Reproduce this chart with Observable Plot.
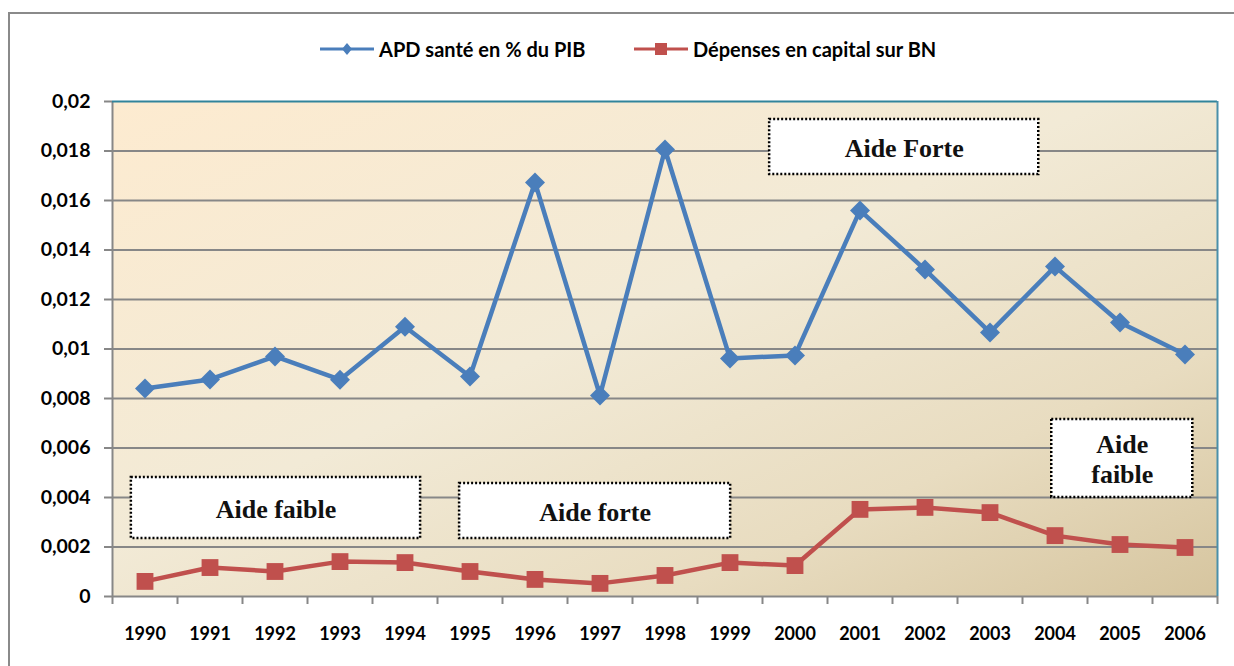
<!DOCTYPE html>
<html>
<head>
<meta charset="utf-8">
<script src="https://cdn.jsdelivr.net/npm/d3@7"></script>
<script src="https://cdn.jsdelivr.net/npm/@observablehq/plot@0.6"></script>
<style>
  body { margin: 0; background: #fff; width: 1234px; height: 666px; overflow: hidden; position: relative; }
  #outer { position: absolute; left: 8px; top: 12px; width: 1250px; height: 700px; border: 2px solid #8a8a8a; box-sizing: border-box; }
  #legend { position: relative; height: 80px; font-family: Lato, "Open Sans", sans-serif; font-weight: bold; font-size: 20px; color: #000; }
  .item { position: absolute; top: 37px; height: 24px; display: flex; align-items: center; white-space: nowrap; }
  .item svg { margin-right: 5px; }
  #chart { position: relative; }
</style>
</head>
<body>
<div id="outer"></div>
<div id="chart">
  <div id="legend"></div>
</div>
<script>
// ---- Data ----
const years = [1990, 1991, 1992, 1993, 1994, 1995, 1996, 1997, 1998, 1999, 2000, 2001, 2002, 2003, 2004, 2005, 2006];
const apdSante = [0.0084, 0.00877, 0.0097, 0.00876, 0.0109, 0.00889, 0.01673, 0.00812, 0.01806, 0.00962, 0.00974, 0.0156, 0.01321, 0.01067, 0.01333, 0.01107, 0.00978];
const depensesCapital = [0.00061, 0.00117, 0.00101, 0.00141, 0.00137, 0.00101, 0.00069, 0.00053, 0.00085, 0.00137, 0.00125, 0.00352, 0.0036, 0.00339, 0.00246, 0.0021, 0.00198];
const seriesNames = ["APD santé en % du PIB", "Dépenses en capital sur BN"];
const yTicks = [0, 0.002, 0.004, 0.006, 0.008, 0.01, 0.012, 0.014, 0.016, 0.018, 0.02];
// annotation boxes (in year / value units)
const annText = ["Aide faible", "Aide forte", "Aide Forte", "Aide\nfaible"];
const annX1 = [1989.79, 1994.84, 1999.61, 2003.95];
const annX2 = [1994.24, 1999.01, 2003.75, 2006.12];
const annY1 = [0.00234, 0.00234, 0.01705, 0.0040];
const annY2 = [0.00481, 0.00457, 0.01927, 0.00715];

// ---- Styles ----
const blue = "#4a7ebb";
const red = "#c0504d";
const grid = "#878787";

const blueData = years.map((y, i) => ({year: y, value: apdSante[i]}));
const redData = years.map((y, i) => ({year: y, value: depensesCapital[i]}));
const ann = annText.map((t, i) => ({text: t, x1: annX1[i], x2: annX2[i], y1: annY1[i], y2: annY2[i]}));
const bounds = d3.range(years[0] - 0.5, years[years.length - 1] + 1, 1);
const xDomain = [years[0] - 0.5, years[years.length - 1] + 0.5];

const fmt = d => d === 0 ? "0" : String(+d.toFixed(3)).replace(".", ",");

// ---- Legend ----
const legend = document.getElementById("legend");
const legendItems = [
  {name: seriesNames[0], color: blue, sym: "diamond", left: 320},
  {name: seriesNames[1], color: red, sym: "square", left: 634}
];
for (const it of legendItems) {
  const div = document.createElement("div");
  div.className = "item";
  div.style.left = it.left + "px";
  const marker = it.sym === "diamond"
    ? `<polygon points="27,6 32,12 27,18 22,12" fill="${it.color}"/>`
    : `<rect x="21" y="6" width="12" height="12" fill="${it.color}"/>`;
  div.innerHTML = `<svg width="54" height="24"><line x1="0" x2="54" y1="12" y2="12" stroke="${it.color}" stroke-width="3"/>${marker}</svg><span>${it.name}</span>`;
  legend.appendChild(div);
}

// ---- Chart ----
const svg = Plot.plot({
  width: 1234,
  height: 586,
  marginTop: 21,
  marginBottom: 70,
  marginLeft: 112,
  marginRight: 17,
  style: {fontFamily: "Lato, 'Open Sans', sans-serif", fontSize: "18px", fontWeight: "bold", color: "#000", background: "transparent", overflow: "visible"},
  x: {domain: xDomain, label: null},
  y: {domain: [0, 0.02], label: null},
  marks: [
    Plot.frame({fill: "#f2ead6", stroke: "none"}),
    Plot.ruleY(yTicks.slice(1, -1), {stroke: grid, strokeWidth: 2}),
    Plot.ruleY([0], {stroke: grid, strokeWidth: 2}),
    Plot.ruleX([xDomain[0]], {stroke: grid, strokeWidth: 2}),
    Plot.ruleY([0.02], {stroke: "#31849b", strokeWidth: 2}),
    Plot.ruleX([xDomain[1]], {stroke: "#4a90aa", strokeWidth: 2}),
    Plot.axisY(yTicks, {tickSize: 8, tickPadding: 14, tickFormat: fmt, stroke: grid, fill: "#000", strokeWidth: 2, fontSize: 19.5, fontWeight: "bold"}),
    Plot.axisX(bounds, {tickSize: 8, tickFormat: () => "", stroke: grid, strokeWidth: 2}),
    Plot.axisX(years, {tickSize: 0, tickPadding: 31, tickFormat: d => String(d), fill: "#000", fontSize: 18, fontWeight: "bold"}),
    Plot.rect(ann, {x1: "x1", x2: "x2", y1: "y1", y2: "y2", fill: "#fff", stroke: "#000", strokeWidth: 2.5, strokeDasharray: "2,2"}),
    Plot.text(ann, {x: d => (d.x1 + d.x2) / 2, y: d => (d.y1 + d.y2) / 2, text: "text", fontFamily: "'Liberation Serif', 'DejaVu Serif', serif", fontSize: 26, fontWeight: "bold", lineHeight: 1.15, fill: "#111"}),
    Plot.lineY(redData, {x: "year", y: "value", stroke: red, strokeWidth: 4.5}),
    Plot.dot(redData, {x: "year", y: "value", symbol: "square", r: 9.5, fill: red, stroke: "none"}),
    Plot.lineY(blueData, {x: "year", y: "value", stroke: blue, strokeWidth: 4.5}),
    Plot.dot(blueData, {x: "year", y: "value", symbol: "diamond2", r: 9, fill: blue, stroke: "none"})
  ]
});

// gradient background for plot area
const ns = "http://www.w3.org/2000/svg";
const defs = document.createElementNS(ns, "defs");
defs.innerHTML = `<linearGradient id="bg" x1="0" y1="0" x2="1" y2="1">
  <stop offset="0" stop-color="#fdebd0"/>
  <stop offset="0.45" stop-color="#f2ead6"/>
  <stop offset="0.75" stop-color="#e8dcc0"/>
  <stop offset="1" stop-color="#d6c59f"/>
</linearGradient>`;
svg.insertBefore(defs, svg.firstChild);
let fr = svg.querySelector('[aria-label="frame"]');
if (fr && fr.tagName.toLowerCase() === "g") fr = fr.querySelector("rect");
if (fr) fr.setAttribute("fill", "url(#bg)");

document.getElementById("chart").appendChild(svg);
</script>
</body>
</html>
